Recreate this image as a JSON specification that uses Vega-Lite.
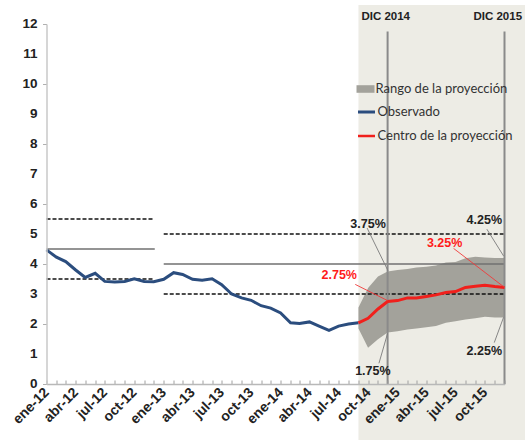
{
  "$schema": "https://vega.github.io/schema/vega-lite/v6.json",
  "width": 458,
  "height": 360,
  "autosize": {"type": "none"},
  "padding": {"left": 46.5, "top": 24, "right": 20.5, "bottom": 56},
  "config": {
    "view": {"stroke": null},
    "font": "Liberation Sans"
  },
  "datasets": {
    "fondo": [{"inicio": "2014-09-01", "fin": "2016-04-01", "bajo": -3, "alto": 12.63}],
    "ejey": [
      {"fecha": "2012-01-01", "valor": 0, "texto": "0"},
      {"fecha": "2012-01-01", "valor": 1, "texto": "1"},
      {"fecha": "2012-01-01", "valor": 2, "texto": "2"},
      {"fecha": "2012-01-01", "valor": 3, "texto": "3"},
      {"fecha": "2012-01-01", "valor": 4, "texto": "4"},
      {"fecha": "2012-01-01", "valor": 5, "texto": "5"},
      {"fecha": "2012-01-01", "valor": 6, "texto": "6"},
      {"fecha": "2012-01-01", "valor": 7, "texto": "7"},
      {"fecha": "2012-01-01", "valor": 8, "texto": "8"},
      {"fecha": "2012-01-01", "valor": 9, "texto": "9"},
      {"fecha": "2012-01-01", "valor": 10, "texto": "10"},
      {"fecha": "2012-01-01", "valor": 11, "texto": "11"},
      {"fecha": "2012-01-01", "valor": 12, "texto": "12"}
    ],
    "banda": [
      {"fecha": "2014-09-01", "lo": 1.85, "hi": 2.55, "serie": "Rango de la proyección"},
      {"fecha": "2014-10-01", "lo": 1.21, "hi": 3.2, "serie": "Rango de la proyección"},
      {"fecha": "2014-11-01", "lo": 1.49, "hi": 3.58, "serie": "Rango de la proyección"},
      {"fecha": "2014-12-01", "lo": 1.72, "hi": 3.75, "serie": "Rango de la proyección"},
      {"fecha": "2015-01-01", "lo": 1.76, "hi": 3.8, "serie": "Rango de la proyección"},
      {"fecha": "2015-02-01", "lo": 1.82, "hi": 3.83, "serie": "Rango de la proyección"},
      {"fecha": "2015-03-01", "lo": 1.85, "hi": 3.88, "serie": "Rango de la proyección"},
      {"fecha": "2015-04-01", "lo": 1.89, "hi": 3.91, "serie": "Rango de la proyección"},
      {"fecha": "2015-05-01", "lo": 1.93, "hi": 3.95, "serie": "Rango de la proyección"},
      {"fecha": "2015-06-01", "lo": 2.04, "hi": 4.05, "serie": "Rango de la proyección"},
      {"fecha": "2015-07-01", "lo": 2.09, "hi": 4.07, "serie": "Rango de la proyección"},
      {"fecha": "2015-08-01", "lo": 2.15, "hi": 4.19, "serie": "Rango de la proyección"},
      {"fecha": "2015-09-01", "lo": 2.19, "hi": 4.24, "serie": "Rango de la proyección"},
      {"fecha": "2015-10-01", "lo": 2.24, "hi": 4.22, "serie": "Rango de la proyección"},
      {"fecha": "2015-11-01", "lo": 2.22, "hi": 4.2, "serie": "Rango de la proyección"},
      {"fecha": "2015-12-01", "lo": 2.22, "hi": 4.2, "serie": "Rango de la proyección"}
    ],
    "metas": [
      {"inicio": "2012-01-01", "fin": "2012-12-04", "valor": 4.5, "tipo": "meta"},
      {"inicio": "2013-01-01", "fin": "2015-12-01", "valor": 4.0, "tipo": "meta"},
      {"inicio": "2012-01-01", "fin": "2012-12-01", "valor": 5.5, "tipo": "rango"},
      {"inicio": "2012-01-01", "fin": "2012-12-01", "valor": 3.5, "tipo": "rango"},
      {"inicio": "2013-01-01", "fin": "2015-12-01", "valor": 5.0, "tipo": "rango"},
      {"inicio": "2013-01-01", "fin": "2015-12-01", "valor": 3.0, "tipo": "rango"}
    ],
    "cortes": [
      {"fecha": "2014-12-01", "base": 0, "tope": 11.75},
      {"fecha": "2015-12-01", "base": 0, "tope": 11.75}
    ],
    "lineas": [
      {"fecha": "2012-01-01", "valor": 4.47, "serie": "Observado"},
      {"fecha": "2012-02-01", "valor": 4.23, "serie": "Observado"},
      {"fecha": "2012-03-01", "valor": 4.08, "serie": "Observado"},
      {"fecha": "2012-04-01", "valor": 3.8, "serie": "Observado"},
      {"fecha": "2012-05-01", "valor": 3.55, "serie": "Observado"},
      {"fecha": "2012-06-01", "valor": 3.69, "serie": "Observado"},
      {"fecha": "2012-07-01", "valor": 3.42, "serie": "Observado"},
      {"fecha": "2012-08-01", "valor": 3.4, "serie": "Observado"},
      {"fecha": "2012-09-01", "valor": 3.42, "serie": "Observado"},
      {"fecha": "2012-10-01", "valor": 3.51, "serie": "Observado"},
      {"fecha": "2012-11-01", "valor": 3.42, "serie": "Observado"},
      {"fecha": "2012-12-01", "valor": 3.41, "serie": "Observado"},
      {"fecha": "2013-01-01", "valor": 3.49, "serie": "Observado"},
      {"fecha": "2013-02-01", "valor": 3.71, "serie": "Observado"},
      {"fecha": "2013-03-01", "valor": 3.65, "serie": "Observado"},
      {"fecha": "2013-04-01", "valor": 3.49, "serie": "Observado"},
      {"fecha": "2013-05-01", "valor": 3.46, "serie": "Observado"},
      {"fecha": "2013-06-01", "valor": 3.51, "serie": "Observado"},
      {"fecha": "2013-07-01", "valor": 3.31, "serie": "Observado"},
      {"fecha": "2013-08-01", "valor": 3.0, "serie": "Observado"},
      {"fecha": "2013-09-01", "valor": 2.87, "serie": "Observado"},
      {"fecha": "2013-10-01", "valor": 2.79, "serie": "Observado"},
      {"fecha": "2013-11-01", "valor": 2.61, "serie": "Observado"},
      {"fecha": "2013-12-01", "valor": 2.53, "serie": "Observado"},
      {"fecha": "2014-01-01", "valor": 2.37, "serie": "Observado"},
      {"fecha": "2014-02-01", "valor": 2.04, "serie": "Observado"},
      {"fecha": "2014-03-01", "valor": 2.02, "serie": "Observado"},
      {"fecha": "2014-04-01", "valor": 2.07, "serie": "Observado"},
      {"fecha": "2014-05-01", "valor": 1.93, "serie": "Observado"},
      {"fecha": "2014-06-01", "valor": 1.79, "serie": "Observado"},
      {"fecha": "2014-07-01", "valor": 1.93, "serie": "Observado"},
      {"fecha": "2014-08-01", "valor": 2.0, "serie": "Observado"},
      {"fecha": "2014-09-01", "valor": 2.04, "serie": "Observado"},
      {"fecha": "2014-09-01", "valor": 2.04, "serie": "Centro de la proyección"},
      {"fecha": "2014-10-01", "valor": 2.19, "serie": "Centro de la proyección"},
      {"fecha": "2014-11-01", "valor": 2.5, "serie": "Centro de la proyección"},
      {"fecha": "2014-12-01", "valor": 2.75, "serie": "Centro de la proyección"},
      {"fecha": "2015-01-01", "valor": 2.78, "serie": "Centro de la proyección"},
      {"fecha": "2015-02-01", "valor": 2.87, "serie": "Centro de la proyección"},
      {"fecha": "2015-03-01", "valor": 2.87, "serie": "Centro de la proyección"},
      {"fecha": "2015-04-01", "valor": 2.92, "serie": "Centro de la proyección"},
      {"fecha": "2015-05-01", "valor": 2.97, "serie": "Centro de la proyección"},
      {"fecha": "2015-06-01", "valor": 3.05, "serie": "Centro de la proyección"},
      {"fecha": "2015-07-01", "valor": 3.08, "serie": "Centro de la proyección"},
      {"fecha": "2015-08-01", "valor": 3.22, "serie": "Centro de la proyección"},
      {"fecha": "2015-09-01", "valor": 3.26, "serie": "Centro de la proyección"},
      {"fecha": "2015-10-01", "valor": 3.29, "serie": "Centro de la proyección"},
      {"fecha": "2015-11-01", "valor": 3.25, "serie": "Centro de la proyección"},
      {"fecha": "2015-12-01", "valor": 3.22, "serie": "Centro de la proyección"}
    ],
    "guias": [
      {"x1": "2014-09-28", "y1": 5.2, "x2": "2014-12-02", "y2": 3.78, "tipo": "negro"},
      {"x1": "2014-08-22", "y1": 3.32, "x2": "2014-12-01", "y2": 2.78, "tipo": "rojo"},
      {"x1": "2014-11-04", "y1": 0.69, "x2": "2014-12-01", "y2": 1.69, "tipo": "negro"},
      {"x1": "2015-10-07", "y1": 5.16, "x2": "2015-11-28", "y2": 4.27, "tipo": "negro"},
      {"x1": "2015-06-25", "y1": 4.52, "x2": "2015-12-01", "y2": 3.22, "tipo": "rojo"},
      {"x1": "2015-10-30", "y1": 1.38, "x2": "2015-11-28", "y2": 2.22, "tipo": "negro"}
    ],
    "etiquetas": [
      {"fecha": "2014-10-01", "valor": 5.33, "texto": "3.75%", "tipo": "negro"},
      {"fecha": "2014-07-03", "valor": 3.63, "texto": "2.75%", "tipo": "rojo"},
      {"fecha": "2014-10-16", "valor": 0.43, "texto": "1.75%", "tipo": "negro"},
      {"fecha": "2015-09-29", "valor": 5.47, "texto": "4.25%", "tipo": "negro"},
      {"fecha": "2015-05-28", "valor": 4.71, "texto": "3.25%", "tipo": "rojo"},
      {"fecha": "2015-09-29", "valor": 1.11, "texto": "2.25%", "tipo": "negro"}
    ],
    "titulos": [
      {"fecha": "2014-11-25", "valor": 12.23, "texto": "DIC 2014"},
      {"fecha": "2015-11-10", "valor": 12.23, "texto": "DIC 2015"}
    ]
  },
  "layer": [
    {
      "data": {"name": "fondo"},
      "mark": {"type": "rect", "color": "#edece5", "clip": false},
      "encoding": {
        "x": {
          "field": "inicio", "type": "temporal",
          "scale": {"type": "utc", "domain": [{"year": 2012, "month": 1, "date": 1, "utc": true}, {"year": 2015, "month": 12, "date": 1, "utc": true}], "nice": false},
          "axis": {
            "title": null,
            "zindex": 2,
            "tickCount": {"interval": "month", "step": 1},
            "labelExpr": "utcmonth(datum.value) % 3 == 0 ? ['ene','feb','mar','abr','may','jun','jul','ago','sep','oct','nov','dic'][utcmonth(datum.value)] + '-' + utcFormat(datum.value, '%y') : ''",
            "labelOverlap": false,
            "labelAngle": -45,
            "labelAlign": "right",
            "labelBaseline": "middle",
            "labelFont": "Liberation Sans",
            "labelFontWeight": "bold",
            "labelFontSize": 14,
            "labelColor": "#222222",
            "labelPadding": 10,
            "labelFlush": false,
            "labelBound": false,
            "domainColor": "#b8b8b8",
            "domainWidth": 1.5,
            "tickColor": "#a0a0a0",
            "tickSize": -4,
            "tickWidth": 1,
            "grid": false
          }
        },
        "x2": {"field": "fin"},
        "y": {
          "field": "bajo", "type": "quantitative",
          "scale": {"domain": [0, 12], "nice": false, "zero": false},
          "axis": {
            "title": null,
            "zindex": 2,
            "values": [0, 1, 2, 3, 4, 5, 6, 7, 8, 9, 10, 11, 12],
            "labels": false,
            "domainColor": "#c8c8c8",
            "domainWidth": 1.5,
            "tickColor": "#b0b0b0",
            "tickSize": 4,
            "grid": false
          }
        },
        "y2": {"field": "alto"}
      }
    },
    {
      "data": {"name": "ejey"},
      "mark": {"type": "text", "font": "Liberation Sans", "fontWeight": "bold", "fontSize": 13.5, "align": "right", "baseline": "middle", "dx": -9, "color": "#222222", "clip": false},
      "encoding": {
        "x": {"field": "fecha", "type": "temporal"},
        "y": {"field": "valor", "type": "quantitative"},
        "text": {"field": "texto"}
      }
    },
    {
      "data": {"name": "banda"},
      "mark": {"type": "area", "opacity": 1},
      "encoding": {
        "x": {"field": "fecha", "type": "temporal"},
        "y": {"field": "lo", "type": "quantitative"},
        "y2": {"field": "hi"},
        "fill": {
          "field": "serie", "type": "nominal",
          "scale": {"domain": ["Rango de la proyección"], "range": ["#a3a29b"]},
          "legend": {
            "title": null, "orient": "none", "legendX": 310, "legendY": 56,
            "symbolType": "M-1,-0.42H1V0.42H-1Z", "symbolSize": 324,
            "symbolStrokeWidth": 0, "symbolOpacity": 1,
            "labelFont": "Lato", "labelFontSize": 13, "labelColor": "#333333",
            "labelOffset": 1, "padding": 0
          }
        }
      }
    },
    {
      "data": {"name": "metas"},
      "transform": [{"filter": "datum.tipo == 'meta'"}],
      "mark": {"type": "rule", "color": "#707070", "strokeWidth": 1.3},
      "encoding": {
        "x": {"field": "inicio", "type": "temporal"},
        "x2": {"field": "fin"},
        "y": {"field": "valor", "type": "quantitative"}
      }
    },
    {
      "data": {"name": "metas"},
      "transform": [{"filter": "datum.tipo == 'rango'"}],
      "mark": {"type": "rule", "color": "#111111", "strokeWidth": 1.5, "strokeDash": [4, 2]},
      "encoding": {
        "x": {"field": "inicio", "type": "temporal"},
        "x2": {"field": "fin"},
        "y": {"field": "valor", "type": "quantitative"}
      }
    },
    {
      "data": {"name": "cortes"},
      "mark": {"type": "rule", "color": "#8a8a8a", "strokeWidth": 2},
      "encoding": {
        "x": {"field": "fecha", "type": "temporal"},
        "y": {"field": "base", "type": "quantitative"},
        "y2": {"field": "tope"}
      }
    },
    {
      "data": {"name": "lineas"},
      "mark": {"type": "line", "strokeWidth": 3},
      "encoding": {
        "x": {"field": "fecha", "type": "temporal"},
        "y": {"field": "valor", "type": "quantitative"},
        "stroke": {
          "field": "serie", "type": "nominal",
          "scale": {"domain": ["Observado", "Centro de la proyección"], "range": ["#2b4d7e", "#f0201c"]},
          "legend": {
            "title": null, "orient": "none", "legendX": 310, "legendY": 78,
            "symbolType": "stroke", "symbolSize": 289, "symbolStrokeWidth": 2.5,
            "rowPadding": 7,
            "labelFont": "Lato", "labelFontSize": 13, "labelColor": "#333333",
            "labelOffset": 1, "padding": 0
          }
        },
        "strokeWidth": {
          "field": "serie", "type": "nominal",
          "scale": {"domain": ["Observado", "Centro de la proyección"], "range": [3, 2.5]},
          "legend": null
        }
      }
    },
    {
      "data": {"name": "guias"},
      "transform": [{"filter": "datum.tipo == 'negro'"}],
      "mark": {"type": "rule", "strokeWidth": 0.9, "color": "#7a7a7a"},
      "encoding": {
        "x": {"field": "x1", "type": "temporal"},
        "y": {"field": "y1", "type": "quantitative"},
        "x2": {"field": "x2"},
        "y2": {"field": "y2"}
      }
    },
    {
      "data": {"name": "guias"},
      "transform": [{"filter": "datum.tipo == 'rojo'"}],
      "mark": {"type": "rule", "strokeWidth": 0.9, "color": "#f03a3a"},
      "encoding": {
        "x": {"field": "x1", "type": "temporal"},
        "y": {"field": "y1", "type": "quantitative"},
        "x2": {"field": "x2"},
        "y2": {"field": "y2"}
      }
    },
    {
      "data": {"name": "etiquetas"},
      "transform": [{"filter": "datum.tipo == 'negro'"}],
      "mark": {"type": "text", "font": "Liberation Sans", "fontWeight": "bold", "fontSize": 12.5, "align": "center", "baseline": "middle", "color": "#222222"},
      "encoding": {
        "x": {"field": "fecha", "type": "temporal"},
        "y": {"field": "valor", "type": "quantitative"},
        "text": {"field": "texto"}
      }
    },
    {
      "data": {"name": "etiquetas"},
      "transform": [{"filter": "datum.tipo == 'rojo'"}],
      "mark": {"type": "text", "font": "Liberation Sans", "fontWeight": "bold", "fontSize": 12.5, "align": "center", "baseline": "middle", "color": "#ff1a1a"},
      "encoding": {
        "x": {"field": "fecha", "type": "temporal"},
        "y": {"field": "valor", "type": "quantitative"},
        "text": {"field": "texto"}
      }
    },
    {
      "data": {"name": "titulos"},
      "mark": {"type": "text", "font": "Liberation Sans", "fontWeight": "bold", "fontSize": 11.5, "align": "center", "baseline": "middle", "color": "#222222", "clip": false},
      "encoding": {
        "x": {"field": "fecha", "type": "temporal"},
        "y": {"field": "valor", "type": "quantitative"},
        "text": {"field": "texto"}
      }
    }
  ]
}
